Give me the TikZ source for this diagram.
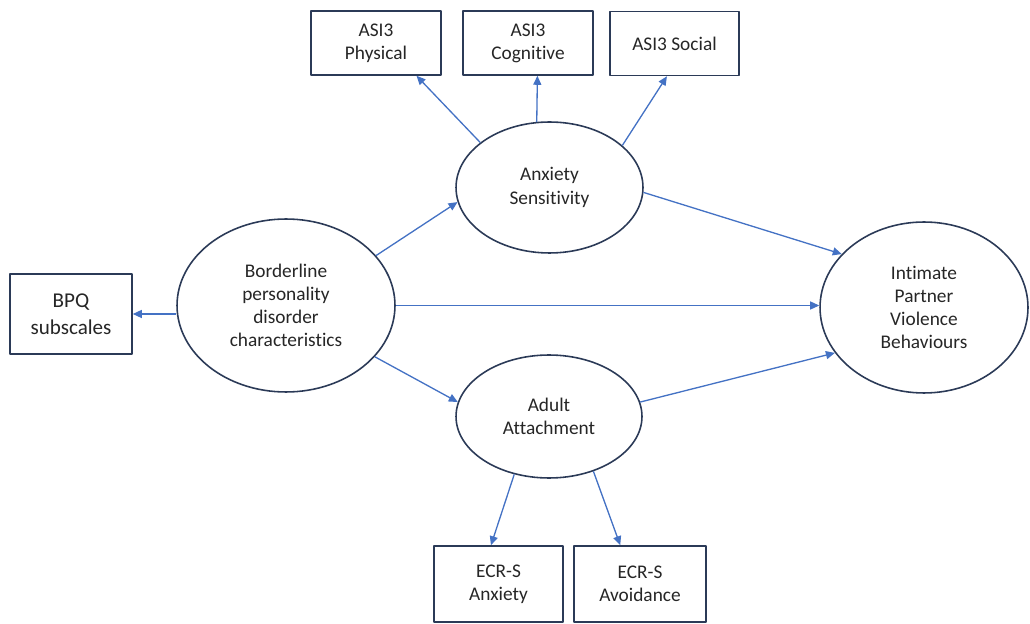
\documentclass[tikz,border=0pt]{standalone}
\usepackage{fontspec}
\setmainfont{Carlito}[Ligatures={NoCommon}]
\usetikzlibrary{shapes.geometric,arrows.meta}
\definecolor{linkblue}{HTML}{4472C4}
\definecolor{edgenavy}{HTML}{2B3A57}
\definecolor{textgray}{HTML}{262626}

\begin{document}
\begin{tikzpicture}[x=0.02cm, y=-0.02cm, line join=round,
  measure/.style={draw=edgenavy, line width=0.9pt, fill=white, text=textgray, align=center, inner sep=0pt, font=\fontsize{11}{13.2}\selectfont},
  latent/.style={ellipse, draw=edgenavy, line width=0.9pt, fill=white, text=textgray, align=center, inner sep=0pt, font=\fontsize{11}{13.2}\selectfont},
  link/.style={draw=linkblue, line width=0.75pt, -{Triangle[length=1.8mm,width=1.6mm]}}]
\useasboundingbox (0,0) rectangle (1030,624);
\node[measure, minimum width=2.6cm, minimum height=1.28cm] (phys) at (376,43) {ASI3\\Physical};
\node[measure, minimum width=2.6cm, minimum height=1.28cm] (cog) at (528,43) {ASI3\\Cognitive};
\node[measure, minimum width=2.58cm, minimum height=1.28cm] (soc) at (674.5,43.5) {ASI3 Social};
\node[measure, minimum width=2.44cm, minimum height=1.6cm, font=\fontsize{12}{15.5}\selectfont] (bpq) at (71,314) {BPQ\\subscales};
\node[measure, minimum width=2.58cm, minimum height=1.52cm] (ecranx) at (498.5,584) {ECR-S\\Anxiety};
\node[measure, minimum width=2.64cm, minimum height=1.52cm] (ecravo) at (640,584) {ECR-S\\Avoidance};
\node[latent, minimum width=3.74cm, minimum height=2.62cm] (as) at (549.5,187.5) {Anxiety\\Sensitivity};
\node[latent, minimum width=4.36cm, minimum height=3.46cm] (bpd) at (286,305.5) {Borderline\\personality\\disorder\\characteristics};
\node[latent, minimum width=3.72cm, minimum height=2.46cm] (aa) at (549,416.5) {Adult\\Attachment};
\node[latent, minimum width=4.16cm, minimum height=3.42cm] (ipv) at (924,307.5) {Intimate\\Partner\\Violence\\Behaviours};
\draw[link] (as.147) -- (phys.-39);
\draw[link] (as.101) -- (cog.-74);
\draw[link] (as.30) -- (soc.-103);
\draw[link] (bpd.29.5) -- (as.189);
\draw[link] (bpd.east) -- (bpd.east -| ipv.west);
\draw[link] (bpd.-30) -- (aa.171);
\draw[link] (bpd.west |- bpq.east) -- (bpq.east);
\draw[link] (as.-3) -- (ipv.147);
\draw[link] (aa.9) -- (ipv.-153);
\draw[link] (aa.-121.6) -- (ecranx.101);
\draw[link] (aa.-51.6) -- (ecravo.117.5);
\end{tikzpicture}
\end{document}
